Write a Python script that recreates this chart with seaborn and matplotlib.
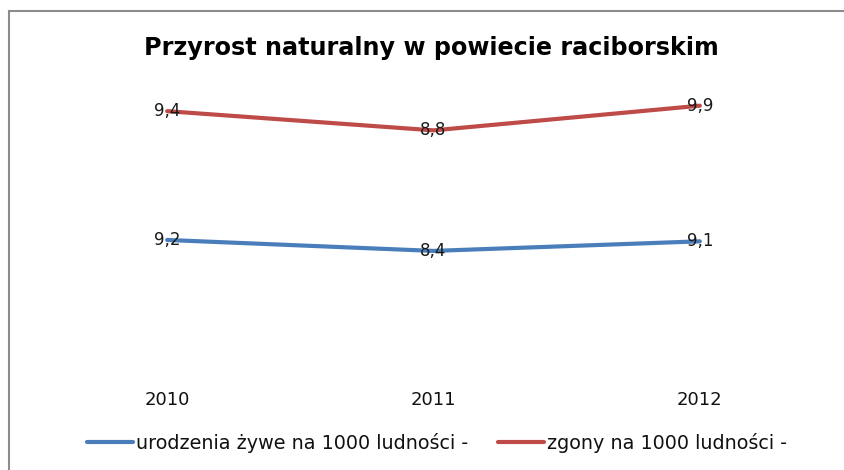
import pandas as pd
import numpy as np
import matplotlib.pyplot as plt
import seaborn as sns
from matplotlib.patches import Rectangle

# --- dane ---
lata = ["2010", "2011", "2012"]
urodzenia = [9.2, 8.4, 9.1]
zgony = [9.4, 8.8, 9.9]
serie = ["urodzenia żywe na 1000 ludności -", "zgony na 1000 ludności -"]
kolory = ["#4A7EBB", "#BE4B48"]

# wykres liniowy skumulowany (jak w Excelu)
zgony_skum = [u + z for u, z in zip(urodzenia, zgony)]

df = pd.DataFrame({
    "rok": lata * 2,
    "wartosc": urodzenia + zgony_skum,
    "etykieta": urodzenia + zgony,
    "seria": [serie[0]] * 3 + [serie[1]] * 3,
})

sns.set_style("white")
plt.rcParams["font.family"] = ["DejaVu Sans"]

fig = plt.figure(figsize=(8.45, 4.70), dpi=100)
ax = fig.add_axes([34 / 845, 1 - 366 / 470, 799 / 845, 274 / 470])

sns.lineplot(data=df, x="rok", y="wartosc", hue="seria", palette=kolory,
             linewidth=3.0, ax=ax, legend=False, sort=False)

ax.set_xlim(-0.5, 2.5)
ax.set_ylim(0, 20)
ax.set_yticks([])
ax.set_xlabel("")
ax.set_ylabel("")
for s in ax.spines.values():
    s.set_visible(False)
ax.tick_params(axis="x", length=0, pad=18, labelsize=13, labelcolor="#111111")

# etykiety danych (wyśrodkowane na punktach)
for i, row in df.iterrows():
    xpos = lata.index(row["rok"])
    ax.text(xpos, row["wartosc"], f"{row['etykieta']:.1f}".replace(".", ","),
            ha="center", va="center", fontsize=12, color="#1a1a1a")

fig.text(431 / 845, 1 - 48 / 470, "Przyrost naturalny w powiecie raciborskim",
         ha="center", va="center", fontsize=17.2, fontweight="bold",
         color="black")

# legenda
uchwyty = [plt.Line2D([], [], color=c, lw=3.0) for c in kolory]
fig.legend(uchwyty, serie, loc="center", bbox_to_anchor=(437 / 845, 1 - 443 / 470),
           ncol=2, frameon=False, fontsize=13.8, handlelength=2.4,
           handletextpad=0.15, columnspacing=1.6, labelcolor="#111111")

# ramka wykresu
fig.patches.append(Rectangle((9.5 / 845, -0.1), 1.0, 1 - 11 / 470 + 0.1,
                             transform=fig.transFigure, fill=False,
                             edgecolor="#8C8C8C", linewidth=1.5))

fig.savefig("out.png", dpi=100)
